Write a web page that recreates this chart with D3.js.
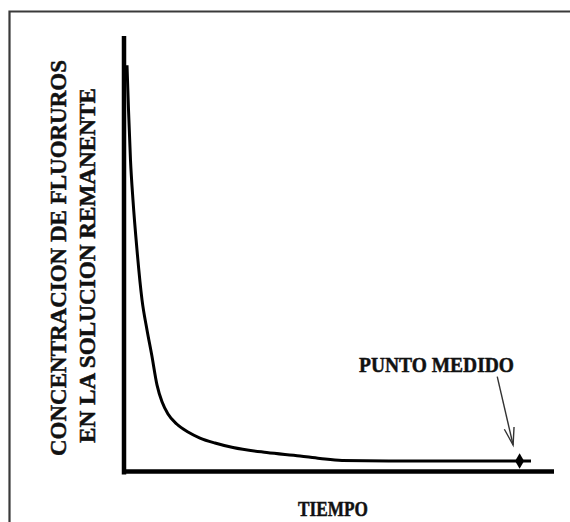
<!DOCTYPE html>
<html>
<head>
<meta charset="utf-8">
<script src="https://cdn.jsdelivr.net/npm/d3@7"></script>
<style>
  html, body { margin: 0; padding: 0; background: #fff; }
  svg { display: block; }
</style>
</head>
<body>
<script>
// ---- data (arbitrary units) ----
const tiempo = [0.70, 1.05, 1.51, 2.09, 3.02, 4.19, 5.35, 6.44, 7.67, 8.84, 10.23, 12.26, 14.88, 17.67, 21.16, 25.35, 33.19, 40.93, 45.58, 50.70, 64.19, 94.65];
const concentracion = [93.3, 83.0, 71.5, 62.3, 50.9, 39.4, 32.5, 26.8, 19.9, 16.0, 13.2, 10.9, 9.07, 7.69, 6.54, 5.51, 4.36, 3.56, 2.99, 2.53, 2.41, 2.41];
const puntoMedido = [92.0, 2.41];          // [tiempo, concentracion]
const etiquetaPunto = "PUNTO MEDIDO";
const flechaInicio = [86.8, 21.8];
const etiquetaX = "TIEMPO";
const etiquetaY = ["CONCENTRACION DE FLUORUROS", "EN LA SOLUCION REMANENTE"];

const FONT = "'Liberation Serif', 'DejaVu Serif', 'Times New Roman', serif";
const W = 570, H = 522;
const svg = d3.select("body").append("svg").attr("width", W).attr("height", H);

// outer frame (left + top only visible)
svg.append("path").attr("d", "M9.5,522 V11.5 H570")
  .attr("fill", "none").attr("stroke", "#3a3a3a").attr("stroke-width", 2.2);

const x = d3.scaleLinear().domain([0, 100]).range([124, 554]);
const y = d3.scaleLinear().domain([0, 100]).range([471.5, 36]);

// axes (no ticks)
const gx = svg.append("g").attr("transform", `translate(0,${y(0)})`)
  .call(d3.axisBottom(x).tickValues([]).tickSizeOuter(0));
gx.select(".domain").attr("stroke", "#000").attr("stroke-width", 4.5)
  .attr("d", `M${x(0)-2},0H${x(100)}`);
const gy = svg.append("g").attr("transform", `translate(${x(0)},0)`)
  .call(d3.axisLeft(y).tickValues([]).tickSizeOuter(0));
gy.select(".domain").attr("stroke", "#000").attr("stroke-width", 4.5)
  .attr("d", `M0,${y(0)+3}V${y(100)}`);

// curve
const pts = tiempo.map((t, i) => [t, concentracion[i]]);
svg.append("path")
  .attr("d", d3.line().x(d => x(d[0])).y(d => y(d[1])).curve(d3.curveMonotoneX)(pts))
  .attr("fill", "none").attr("stroke", "#000").attr("stroke-width", 3)
  .attr("stroke-linejoin", "round");

// measured point (diamond)
svg.append("path")
  .attr("d", d3.symbol(d3.symbolDiamond, 70)())
  .attr("transform", `translate(${x(puntoMedido[0])},${y(puntoMedido[1])})`)
  .attr("fill", "#000");

// arrow
const ax0 = x(flechaInicio[0]), ay0 = y(flechaInicio[1]);
const ax1 = x(puntoMedido[0]) - 6.5, ay1 = y(puntoMedido[1]) - 16;
svg.append("line").attr("x1", ax0).attr("y1", ay0).attr("x2", ax1).attr("y2", ay1)
  .attr("stroke", "#333").attr("stroke-width", 1.4);
const ang = Math.atan2(ay1 - ay0, ax1 - ax0);
const hl = 18, spread = 0.28;
svg.append("path")
  .attr("d", `M${ax1 - hl*Math.cos(ang - spread)},${ay1 - hl*Math.sin(ang - spread)} L${ax1},${ay1} L${ax1 - hl*Math.cos(ang + spread)},${ay1 - hl*Math.sin(ang + spread)}`)
  .attr("fill", "none").attr("stroke", "#333").attr("stroke-width", 1.4);

// labels
function label(txt, size, len) {
  return svg.append("text").text(txt)
    .attr("font-family", FONT).attr("font-weight", "bold")
    .attr("font-size", size).attr("fill", "#111")
    .attr("stroke", "#111").attr("stroke-width", 0.5)
    .attr("textLength", len).attr("lengthAdjust", "spacingAndGlyphs");
}
label(etiquetaPunto, 22, 155).attr("x", 359).attr("y", 372);
label(etiquetaX, 22, 70).attr("x", 298).attr("y", 516);
label(etiquetaY[0], 24, 396).attr("transform", "translate(66,456) rotate(-90)");
label(etiquetaY[1], 24, 355).attr("transform", "translate(95,443) rotate(-90)");
</script>
</body>
</html>
